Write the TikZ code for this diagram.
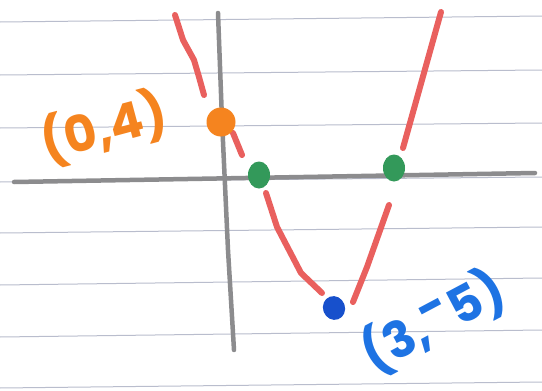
\documentclass[tikz,border=0pt]{standalone}
\usepackage{fontspec}
\setmainfont{Poppins}
\usetikzlibrary{positioning,shapes.geometric}
\definecolor{skPaper}{HTML}{B9BDCD}
\definecolor{skAxis}{HTML}{8C8C8E}
\definecolor{skRed}{HTML}{E9605E}
\definecolor{skOrange}{HTML}{F5841F}
\definecolor{skGreen}{HTML}{33995A}
\definecolor{skBlue}{HTML}{1E73E3}
\definecolor{skDeepBlue}{HTML}{1750CC}
\tikzset{
  sk/paper/.style={draw=skPaper, line width=1pt},
  sk/axis/.style={draw=skAxis, line width=4.5pt, line cap=round,
    line join=round},
  sk/curve/.style={draw=skRed, line width=6pt, line cap=round,
    line join=round},
  sk/dot/.style={ellipse, inner sep=0pt, minimum width=22pt,
    minimum height=27pt},
  sk/label/.style={font=\fontsize{50}{50}\selectfont\bfseries},
}

\begin{document}
\begin{tikzpicture}[x=1pt, y=-1pt]
\useasboundingbox (0,0) rectangle (542,391);
\fill[white] (0,0) rectangle (542,391);
% ruled paper
\foreach \yl/\yr in {22/16, 75/70, 128/123, 182/177, 233/227, 285/278, 337/330, 388/382}
  \draw[sk/paper] (0,\yl) -- (542,\yr);
% axes
\coordinate (xl) at (14,182);
\coordinate (xr) at (535,173);
\coordinate (yt) at (218,13);
\coordinate (yb) at (234,350);
\draw[sk/axis] (xl) -- (xr);
\draw[sk/axis] (yt) -- (222,120) -- (228,250) -- (yb);
% the curve, in broken strokes
\draw[sk/curve] (175,15) -- (183,40) -- (194,60) -- (199,77) -- (204,95);
\draw[sk/curve] (233,133) -- (242,155);
\draw[sk/curve] (266,193) -- (277,227) -- (301,273) -- (322,293);
\draw[sk/curve] (353,302) -- (367,267) -- (389,205);
\draw[sk/curve] (403,148) -- (441,12);
% points
\node[sk/dot, fill=skOrange, minimum width=29pt, minimum height=29pt] (yint) at (221,122) {};
\node[sk/dot, fill=skGreen] (rootA) at (259,175) {};
\node[sk/dot, fill=skGreen] (rootB) at (394,168) {};
\node[sk/dot, fill=skDeepBlue, minimum width=22pt, minimum height=24pt, rotate=20] (vertex) at (334,308) {};
% labels
\node[sk/label, text=skOrange, rotate=15] (yintLabel) at (104,128) {(0,4)};
\node[sk/label, text=skBlue, rotate=28] (vertexLabel) at (433,322) {(3,\raisebox{.3em}{-}5)};
\end{tikzpicture}
\end{document}
